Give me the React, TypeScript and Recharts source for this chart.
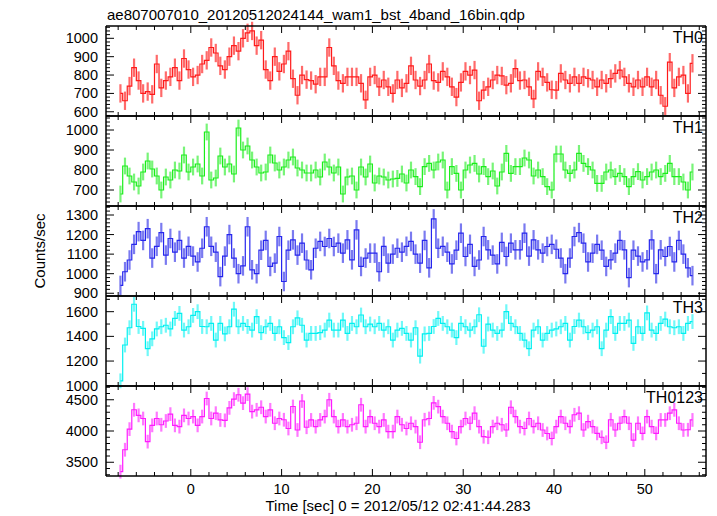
import React from 'react'
import { LineChart, Line, XAxis, YAxis, ErrorBar } from 'recharts'

// bins: 0.5 s, first bin centre at -7.75 s
const T_START = -7.75
const T_STEP = 0.5

const TH0 = [
  700, 660, 740, 840, 770, 700, 710, 695, 860, 730,
  770, 790, 840, 770, 890, 830, 790, 800, 860, 880,
  950, 920, 850, 830, 900, 960, 930, 1000, 1030, 1040,
  960, 990, 830, 770, 900, 820, 860, 930, 780, 690,
  800, 775, 770, 750, 790, 790, 950, 850, 770, 755,
  790, 790, 790, 755, 665, 790, 800, 736, 773, 736,
  700, 773, 730, 755, 850, 773, 740, 773, 860, 770,
  760, 820, 790, 736, 680, 760, 820, 800, 827, 660,
  718, 736, 773, 800, 795, 745, 755, 835, 770, 773,
  736, 670, 820, 790, 760, 720, 718, 809, 773, 755,
  790, 755, 790, 782, 773, 736, 773, 755, 780, 809,
  827, 790, 755, 736, 773, 736, 790, 736, 773, 690,
  630, 870, 730, 790, 800, 700, 864,
]

const TH1 = [
  680, 820, 770, 740, 720, 790, 845, 805, 770, 700,
  765, 750, 800, 795, 875, 790, 815, 830, 770, 990,
  750, 760, 870, 815, 830, 780, 1010, 900, 920, 850,
  815, 785, 790, 875, 835, 800, 815, 850, 865, 810,
  800, 785, 785, 800, 765, 840, 815, 785, 815, 680,
  765, 770, 700, 815, 765, 830, 735, 770, 765, 750,
  755, 758, 780, 735, 800, 767, 717, 817, 833, 800,
  840, 850, 700, 817, 783, 700, 800, 825, 833, 780,
  817, 767, 795, 720, 790, 883, 783, 817, 817, 860,
  850, 770, 800, 767, 717, 700, 880, 880, 800, 783,
  800, 883, 833, 817, 800, 733, 733, 790, 800, 767,
  783, 767, 717, 767, 792, 750, 767, 790, 800, 767,
  783, 833, 767, 767, 740, 700, 790,
]

const TH2 = [
  940, 1010, 1070, 1150, 1215, 1170, 1230, 1080, 1140, 1210,
  1095, 1180, 1110, 1170, 1080, 1140, 1090, 1060, 1130, 1240,
  1140, 1110, 985, 1090, 1200, 1080, 1000, 1040, 1240, 1020,
  1000, 1120, 1170, 1037, 1054, 1190, 960, 1120, 1173, 1095,
  1156, 1070, 1020, 1130, 1165, 1139, 1180, 1139, 1156, 1105,
  1173, 1071, 1224, 1037, 1080, 1105, 1105, 1010, 1140, 1054,
  1100, 1130, 1110, 1140, 1165, 1100, 1054, 1170, 1030, 1280,
  1130, 1140, 1110, 1050, 1120, 1207, 1088, 1150, 1037, 1070,
  1190, 1122, 1095, 1050, 1160, 1088, 1156, 1122, 1122, 1207,
  1090, 1173, 1122, 1105, 1139, 1150, 1125, 1080, 1000, 1080,
  1190, 1210, 1156, 1060, 1105, 1150, 1120, 1037, 1071, 1105,
  1170, 1122, 980, 1120, 1090, 1060, 1071, 1173, 1000, 1122,
  1088, 1139, 1060, 1170, 1100, 1030, 990,
]

const TH3 = [
  1040, 1330, 1470, 1660, 1480, 1465, 1300, 1380, 1460, 1478,
  1490, 1460, 1545, 1586, 1451, 1478, 1570, 1600, 1480, 1478,
  1505, 1370, 1505, 1420, 1478, 1620, 1478, 1505, 1480, 1451,
  1560, 1430, 1478, 1505, 1424, 1478, 1390, 1350, 1478, 1550,
  1490, 1370, 1424, 1424, 1430, 1451, 1532, 1451, 1451, 1532,
  1424, 1505, 1478, 1573, 1478, 1500, 1478, 1505, 1451, 1478,
  1370, 1451, 1465, 1424, 1370, 1470, 1240, 1420, 1424, 1480,
  1545, 1505, 1478, 1451, 1390, 1505, 1478, 1451, 1478, 1575,
  1320, 1500, 1451, 1424, 1451, 1600, 1505, 1478, 1424, 1370,
  1300, 1451, 1478, 1370, 1424, 1451, 1460, 1478, 1505, 1370,
  1480, 1532, 1478, 1430, 1451, 1478, 1300, 1451, 1560, 1424,
  1505, 1505, 1532, 1343, 1478, 1424, 1590, 1451, 1424, 1505,
  1540, 1478, 1470, 1478, 1424, 1505, 1520,
]

const TH0123 = [
  3350, 3700, 4030, 4340, 4250, 4200, 3830, 4090, 4200, 4100,
  4160, 4270, 4090, 4070, 4250, 4200, 4231, 4090, 4231, 4520,
  4200, 4285, 4177, 4170, 4370, 4510, 4580, 4446, 4590, 4310,
  4339, 4380, 4231, 4339, 4124, 4200, 4180, 4040, 4392, 4016,
  4480, 4060, 4177, 4070, 4177, 4231, 4500, 4231, 4070, 4177,
  4070, 4100, 4124, 4420, 4070, 4231, 4124, 4070, 4177, 3990,
  3990, 4231, 4100, 4040, 4124, 4070, 3820, 4180, 4200, 4450,
  4390, 4230, 4124, 3990, 3880, 4070, 4200, 4124, 4285, 4070,
  3909, 3900, 4070, 4124, 4100, 4016, 4380, 4231, 4070, 4040,
  4200, 4070, 4124, 4016, 3960, 3880, 4070, 4231, 4124, 4070,
  4260, 4285, 4016, 4150, 4070, 3962, 3900, 3820, 4180, 4016,
  4124, 4231, 4124, 3855, 4124, 3962, 4231, 4070, 3962, 4177,
  4177, 4285, 4339, 4124, 4016, 4020, 4177,
]

// 1-sigma errors (counts/sec)
const ERR_TH0 = 50
const ERR_TH1 = 42
const ERR_TH2 = 50
const ERR_TH3 = 60
const ERR_TH0123 = 110

const X_LABELS = [0, 10, 20, 30, 40, 50]
const X_TICKS = [-8, -6, -4, -2, 0, 2, 4, 6, 8, 10, 12, 14, 16, 18, 20, 22, 24, 26, 28, 30,
  32, 34, 36, 38, 40, 42, 44, 46, 48, 50, 52, 54, 56]
const X_DOMAIN: [number, number] = [-9.34, 56.74]

const TH0_LABELS = [600, 700, 800, 900, 1000]
const TH1_LABELS = [700, 800, 900, 1000]
const TH2_LABELS = [900, 1000, 1100, 1200, 1300]
const TH3_LABELS = [1000, 1200, 1400, 1600]
const TH0123_LABELS = [3500, 4000, 4500]

const W = 717
const PLOT_LEFT = 106
const PLOT_RIGHT = 706
const PANEL_H = 90
const FONT = '"Liberation Sans", Arial, Helvetica, sans-serif'

function range(lo: number, hi: number, step: number) {
  const out: number[] = []
  for (let v = Math.ceil(lo / step) * step; v <= hi + 1e-9; v += step) out.push(Math.round(v))
  return out
}

const panels = [
  { name: 'TH0', values: TH0, err: ERR_TH0, domain: [577, 1067], labels: TH0_LABELS, minor: 20, line: '#ff1a1a', bar: '#ff6a6a' },
  { name: 'TH1', values: TH1, err: ERR_TH1, domain: [620, 1070], labels: TH1_LABELS, minor: 20, line: '#1aee1a', bar: '#78f478' },
  { name: 'TH2', values: TH2, err: ERR_TH2, domain: [886, 1346], labels: TH2_LABELS, minor: 20, line: '#2626ee', bar: '#7a7af0' },
  { name: 'TH3', values: TH3, err: ERR_TH3, domain: [998, 1727], labels: TH3_LABELS, minor: 100, line: '#00f0f0', bar: '#70f8f8' },
  { name: 'TH0123', values: TH0123, err: ERR_TH0123, domain: [3280, 4720], labels: TH0123_LABELS, minor: 100, line: '#ff1aff', bar: '#ff78ff' },
]

const AXIS_LINE = { stroke: '#000', strokeWidth: 1.5 }

function xTick(side: 'top' | 'bottom', showLabel: boolean) {
  return (props: any) => {
    const { x, y, payload } = props
    const major = X_LABELS.includes(payload.value)
    const len = major ? 7 : 4
    const d = side === 'bottom' ? -1 : 1
    return (
      <g>
        <line x1={x} x2={x} y1={y} y2={y + d * len} stroke="#000" strokeWidth={1} />
        {showLabel && major && (
          <text x={x} y={y + 17.5} textAnchor="middle" fontSize={14.5} fontFamily={FONT} fill="#000">
            {payload.value}
          </text>
        )}
      </g>
    )
  }
}

function yTick(side: 'left' | 'right', labels: number[]) {
  return (props: any) => {
    const { x, y, payload } = props
    const major = labels.includes(payload.value)
    const len = major ? 8 : 4
    const d = side === 'left' ? 1 : -1
    return (
      <g>
        <line x1={x} x2={x + d * len} y1={y} y2={y} stroke="#000" strokeWidth={1} />
        {side === 'left' && major && (
          <text x={x - 8} y={y} dy={5} textAnchor="end" fontSize={14.5} fontFamily={FONT} fill="#000">
            {payload.value}
          </text>
        )}
      </g>
    )
  }
}

function Panel({ p, top, last }: { p: typeof panels[number]; top: number; last: boolean }) {
  const rows = p.values.map((v, i) => ({ t: T_START + i * T_STEP, v, e: p.err }))
  // axes need a non-zero box to be drawn; 1px top axis and 1px right axis
  const bottomH = last ? 30 : 1
  const yTicks = range(p.domain[0], p.domain[1], p.minor)
  return (
    <div style={{ position: 'absolute', left: 0, top: top - 1 }}>
      <LineChart width={W} height={PANEL_H + 1 + bottomH} data={rows}
        margin={{ top: 0, right: W - PLOT_RIGHT - 1, bottom: 0, left: 0 }}>
        <XAxis xAxisId="b" type="number" dataKey="t" domain={X_DOMAIN} ticks={X_TICKS} interval={0}
          allowDataOverflow height={bottomH} tickSize={0} tickMargin={0} tickLine={false}
          axisLine={AXIS_LINE} tick={xTick('bottom', last)} />
        <XAxis xAxisId="t" orientation="top" type="number" dataKey="t" domain={X_DOMAIN} ticks={X_TICKS}
          interval={0} allowDataOverflow height={1} tickSize={0} tickMargin={0} tickLine={false}
          axisLine={AXIS_LINE} tick={xTick('top', false)} />
        <YAxis yAxisId="l" type="number" domain={p.domain} ticks={yTicks} interval={0} allowDataOverflow
          width={PLOT_LEFT} tickSize={0} tickMargin={0} tickLine={false} axisLine={AXIS_LINE}
          tick={yTick('left', p.labels)} />
        <YAxis yAxisId="r" orientation="right" type="number" domain={p.domain} ticks={yTicks} interval={0}
          allowDataOverflow width={1} tickSize={0} tickMargin={0} tickLine={false} axisLine={AXIS_LINE}
          tick={yTick('right', p.labels)} />
        <Line xAxisId="b" yAxisId="l" type="step" dataKey="v" stroke={p.line} strokeWidth={1.2}
          dot={false} isAnimationActive={false}>
          <ErrorBar dataKey="e" width={0} stroke={p.bar} strokeWidth={2.2} />
        </Line>
        <Line xAxisId="t" yAxisId="r" dataKey="v" stroke="none" dot={false} isAnimationActive={false} legendType="none" />
      </LineChart>
    </div>
  )
}

const PANEL_TOPS = [26, 116, 206, 296, 386]

export default function App() {
  return (
    <div style={{ position: 'absolute', left: 0, top: 0, width: W, height: 516, background: '#fff' }}>
      <style>{'.recharts-surface { overflow: visible; }'}</style>
      {panels.map((p, i) => (
        <Panel key={p.name} p={p} top={PANEL_TOPS[i]} last={i === panels.length - 1} />
      ))}
      <svg width={W} height={516} style={{ position: 'absolute', left: 0, top: 0, pointerEvents: 'none' }}
        fontFamily={FONT} fill="#000">
        <text x={107} y={20} fontSize={15}>ae807007010_20120512024144_wam1_bst_4band_16bin.qdp</text>
        {panels.map((p, i) => (
          <text key={p.name} x={703} y={PANEL_TOPS[i] + 17} fontSize={16} textAnchor="end">{p.name}</text>
        ))}
        <text x={41} y={251} fontSize={15} textAnchor="middle" dominantBaseline="middle"
          transform="rotate(-90 41 251)">Counts/sec</text>
        <text x={398} y={511} fontSize={15} textAnchor="middle">Time [sec] 0 = 2012/05/12 02:41:44.283</text>
      </svg>
    </div>
  )
}
